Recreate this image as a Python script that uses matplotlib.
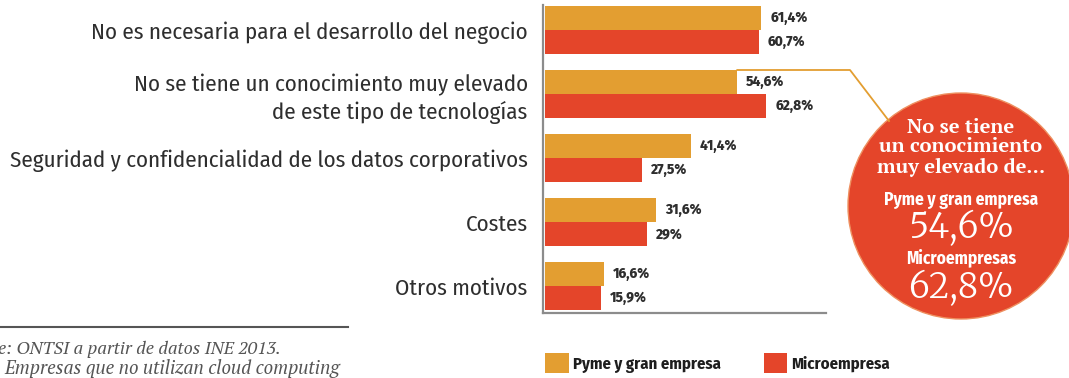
import matplotlib
matplotlib.use("Agg")
import matplotlib.pyplot as plt
from matplotlib.patches import Ellipse
from matplotlib.lines import Line2D

# Motivos para no usar cloud computing (%)
motivos = [
    "No es necesaria para el desarrollo del negocio",
    "No se tiene un conocimiento muy elevado\nde este tipo de tecnologías",
    "Seguridad y confidencialidad de los datos corporativos",
    "Costes",
    "Otros motivos",
]
pyme = [61.4, 54.6, 41.4, 31.6, 16.6]
micro = [60.7, 62.8, 27.5, 29.0, 15.9]
series = ["Pyme y gran empresa", "Microempresa"]

ORANGE = "#E39E31"
RED = "#E4452A"
TXT = "#2e2e2e"
COND = ["Fira Sans Condensed", "DejaVu Sans"]
FIRA = ["Fira Sans", "DejaVu Sans"]
SERIF = ["Merriweather", "DejaVu Serif"]
PTSERIF = ["PT Serif", "DejaVu Serif"]

W, H = 1069, 378
fig = plt.figure(figsize=(W / 100, H / 100), dpi=100)


def fx(px):
    return px / W


def fy(py):
    return 1 - py / H


ax = fig.add_axes([fx(543), fy(313), fx(826 - 543), (313 - 5) / H])
h = 0.375
ys = list(range(len(motivos)))
b1 = ax.barh([y - h / 2 for y in ys], pyme, height=h, color=ORANGE, label=series[0])
b2 = ax.barh([y + h / 2 for y in ys], micro, height=h, color=RED, label=series[1])
ax.set_xlim(-0.6, 79.8)
ax.set_ylim(4.42, -0.39)

for y, a, b in zip(ys, pyme, micro):
    for val, yy in ((a, y - h / 2), (b, y + h / 2)):
        lab = f"{val:.1f}".replace(".", ",") if val % 1 else f"{val:.0f}"
        ax.annotate(lab + "%", (val, yy), xytext=(6.5, 0), textcoords="offset points",
                    ha="left", va="center", fontsize=9.8, fontweight="heavy",
                    family=FIRA, color=TXT)

ax.set_yticks(ys)
ax.set_yticklabels(motivos, family=COND, fontsize=16.5, color=TXT, linespacing=1.25)
ax.tick_params(axis="y", length=0, pad=11)
ax.set_xticks([])
for s in ("top", "right"):
    ax.spines[s].set_visible(False)
for s in ("left", "bottom"):
    ax.spines[s].set_color("#8c8c8c")
    ax.spines[s].set_linewidth(1.6)

# leader line from the second group to the callout circle
x0, y0 = ax.transData.transform((pyme[1], 1 - h))
x0, y0 = fig.transFigure.inverted().transform((x0, y0))
fig.add_artist(Line2D([x0, fx(850), fx(889)], [y0, y0, fy(121)],
                      transform=fig.transFigure, color=ORANGE, lw=1.3))

fig.add_artist(Ellipse((fx(961), fy(206)), fx(226), 226 / H, transform=fig.transFigure,
                       facecolor=RED, edgecolor="#EE9060", lw=1.0))
cx = fx(961)
for i, line in enumerate(["No se tiene", "un conocimiento", "muy elevado de..."]):
    fig.text(cx, fy(127 + 20 * i), line, ha="center", va="center", color="white",
             family=PTSERIF, fontweight="bold", fontsize=14.5)
fig.text(cx, fy(200), "Pyme y gran empresa", ha="center", va="center", color="white",
         family=COND, fontweight="bold", fontsize=12.5)
fig.text(cx, fy(228), f"{pyme[1]:.1f}%".replace(".", ","), ha="center", va="center",
         color="white", family=SERIF, fontweight="light", fontsize=25)
fig.text(cx, fy(258), "Microempresas", ha="center", va="center", color="white",
         family=COND, fontweight="bold", fontsize=12.5)
fig.text(cx, fy(288), f"{micro[1]:.1f}%".replace(".", ","), ha="center", va="center",
         color="white", family=SERIF, fontweight="light", fontsize=25)

# source note
fig.add_artist(Line2D([0, fx(348)], [fy(327), fy(327)], transform=fig.transFigure,
                      color="#555555", lw=1.5))
fig.text(fx(-2), fy(349), "e: ONTSI a partir de datos INE 2013.", ha="left", va="center",
         family=PTSERIF, style="italic", fontsize=13, color="#555555")
fig.text(fx(4), fy(369), "Empresas que no utilizan cloud computing", ha="left", va="center",
         family=PTSERIF, style="italic", fontsize=13.5, color="#555555")

leg = fig.legend(handles=[b1, b2], loc="center left", bbox_to_anchor=(fx(537), fy(363)),
                 ncol=2, frameon=False, handlelength=1.4, handleheight=1.4,
                 handletextpad=0.25, columnspacing=2.6, borderpad=0,
                 prop={"family": COND, "weight": "bold", "size": 12})
for t in leg.get_texts():
    t.set_color("#1e1e1e")

fig.savefig("out.png", dpi=100)
